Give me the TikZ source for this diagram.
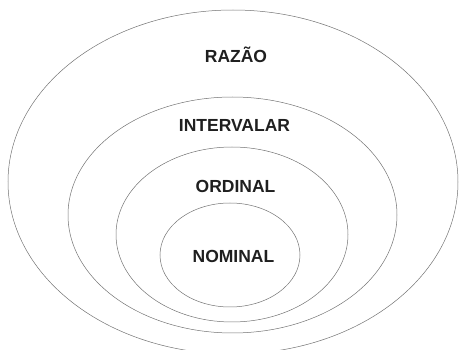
\documentclass[tikz,border=0pt]{standalone}
\usepackage{fontspec}
\setmainfont{Liberation Sans}
\begin{document}
\begin{tikzpicture}[x=1pt, y=-1pt,
  ring/.style={draw=black!55, line width=0.5pt},
  level/.style={anchor=base, font=\fontsize{17.5}{20}\selectfont\bfseries, text=black!88, inner sep=0pt}]
  \useasboundingbox (0,0) rectangle (459,350);
  % nested scales of measurement
  \draw[ring] (233,182) ellipse [x radius=225, y radius=172];
  \draw[ring] (232.5,215) ellipse [x radius=164.5, y radius=118];
  \draw[ring] (232,234.5) ellipse [x radius=116, y radius=87.5];
  \draw[ring] (230,255) ellipse [x radius=70, y radius=52];
  % labels
  \node[level] (razao) at (236,63) {RAZÃO};
  \node[level] (intervalar) at (234.5,132) {INTERVALAR};
  \node[level] (ordinal) at (235.5,193) {ORDINAL};
  \node[level] (nominal) at (233.5,263) {NOMINAL};
\end{tikzpicture}
\end{document}
